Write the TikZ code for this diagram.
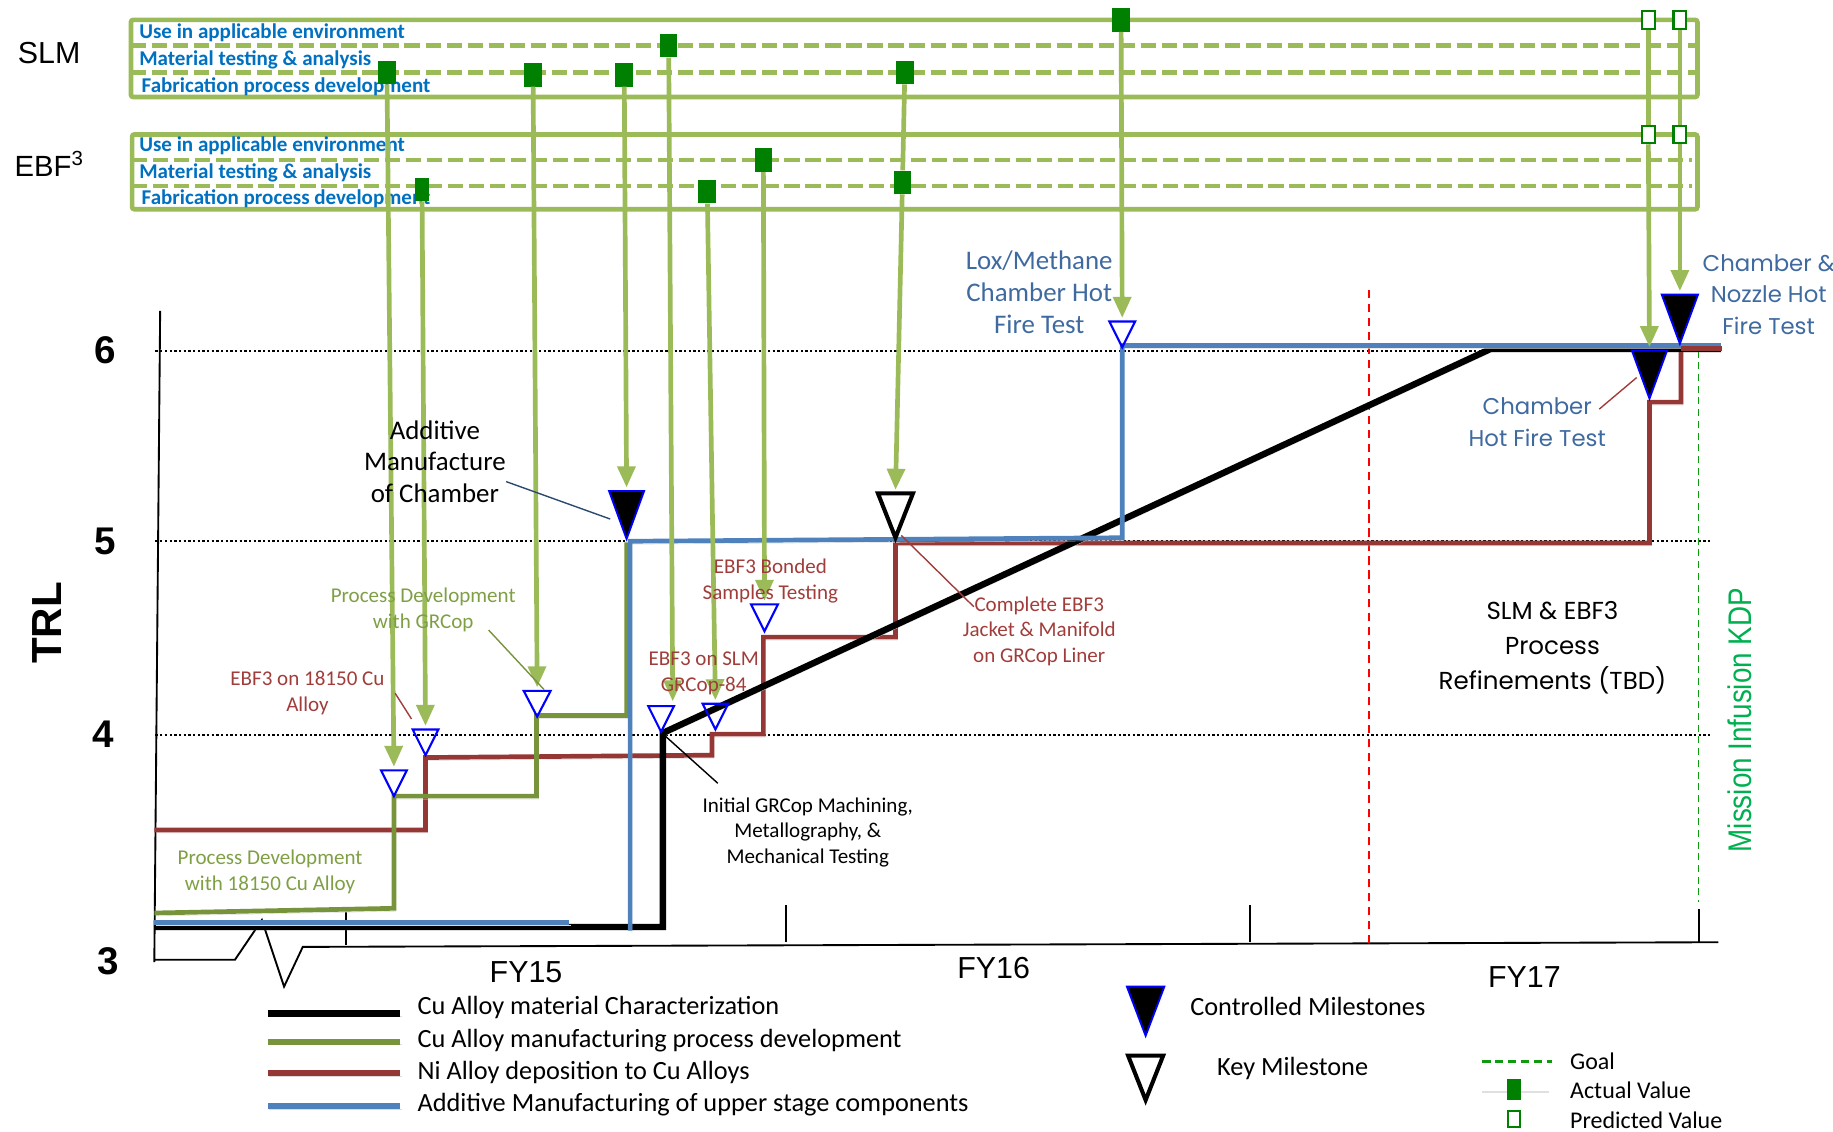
\documentclass[tikz,border=0pt]{standalone}
\usepackage{fontspec}
\setmainfont{Carlito}
\newfontfamily\arialfont{Liberation Sans}
\newfontfamily\narrowfont[FakeStretch=0.85]{Liberation Sans}
\newfontfamily\gothicfont{Poppins}
\usetikzlibrary{arrows.meta, calc}
\definecolor{BoxGreen}{HTML}{9BBB59}
\definecolor{MarkGreen}{HTML}{008000}
\definecolor{RowBlue}{HTML}{0070C0}
\definecolor{StepGreen}{HTML}{77933C}
\definecolor{StepRed}{HTML}{953735}
\definecolor{StepBlue}{HTML}{4F81BD}
\definecolor{NoteRed}{HTML}{A03D3A}
\definecolor{NoteGreen}{HTML}{7F9F45}
\definecolor{NoteBlue}{HTML}{3F6AA0}
\definecolor{MileBlue}{HTML}{0000FF}
\definecolor{KdpGreen}{HTML}{00B050}
\definecolor{GoalGreen}{HTML}{109A10}

% milestone triangle: name, x, top y, half width, height, style
\newcommand{\milestone}[6]{%
  \coordinate (#1) at (#2,#3);
  \coordinate (#1-tip) at (#2,#3+#5);
  \draw[#6] (#2-#4,#3) -- (#2+#4,#3) -- (#1-tip) -- cycle;}

\begin{document}
\begin{tikzpicture}[
  x=1pt, y=-1pt,
  font=\fontsize{18}{22}\selectfont,
  boxline/.style={draw=BoxGreen, line width=4pt, rounded corners=2pt},
  boxdash/.style={draw=BoxGreen, line width=4pt, dash pattern=on 13pt off 5pt},
  rowlabel/.style={anchor=west, inner sep=0pt, text=RowBlue, font=\bfseries\fontsize{18}{20}\selectfont},
  actual/.style={fill=MarkGreen, inner sep=0pt, minimum width=15pt, minimum height=20pt},
  predicted/.style={fill=white, draw=MarkGreen, line width=1.8pt, inner sep=0pt, minimum width=11pt, minimum height=15pt},
  feed/.style={draw=BoxGreen, line width=4pt, -{Triangle[length=18pt, width=15pt]}, shorten >=3pt},
  feedpass/.style={draw=BoxGreen, line width=4pt},
  grid/.style={line width=1.6pt, dash pattern=on 2pt off 2pt},
  axis/.style={line width=1.6pt},
  shadowed/.style={preaction={draw=black!14, transform canvas={shift={(1.5pt,-2.5pt)}}}},
  stepblack/.style={shadowed, draw=black, line width=5.5pt},
  stepgreen/.style={shadowed, draw=StepGreen, line width=4pt},
  stepred/.style={shadowed, draw=StepRed, line width=4pt},
  stepblue/.style={shadowed, draw=StepBlue, line width=4pt},
  minor/.style={draw=MileBlue, line width=1.8pt},
  controlled/.style={draw=MileBlue, fill=black, line width=1.6pt},
  keystone/.style={draw=black, fill=white, line width=3.5pt},
  note/.style={align=center, inner sep=0pt},
  lead/.style={line width=1.2pt},
  axislabel/.style={inner sep=0pt, font=\arialfont\bfseries\fontsize{33}{36}\selectfont},
  fylabel/.style={inner sep=0pt, font=\arialfont\fontsize{26}{30}\selectfont},
  legendtext/.style={anchor=west, inner sep=0pt, font=\fontsize{22.5}{26}\selectfont},
  smalllegend/.style={anchor=west, inner sep=0pt, font=\fontsize{20.5}{23}\selectfont}
]
\useasboundingbox (0,0) rectangle (1568,968);

% grid and axes
\draw[grid] (133,300) -- (1465,300);
\draw[grid] (133,463) -- (1464,463);
\draw[grid] (133,629) -- (1464,629);
\draw[axis] (137,266) -- (132,823);
\draw[axis] (132,821) -- (201,821) -- (224,787) -- (243,844) -- (259,810) -- (1470,806);
\draw[axis] (296,780) -- (296,808);
\draw[axis] (672,774) -- (672,806);
\draw[axis] (1069,774) -- (1069,806);
\draw[axis] (1453,778) -- (1453,807);
\draw[draw=red, line width=1.3pt, dash pattern=on 7pt off 5pt] (1171,248) -- (1171,808);
\draw[draw=GoalGreen, line width=1.5pt, dash pattern=on 6pt off 4pt] (1453,300) -- (1453,772);

% TRL steps
\draw[stepred] (132,710) -- (364,710) -- (364,648) -- (609,646) -- (609,628) -- (653,628)
  -- (653,545) -- (766,545) -- (766,464.5) -- (1411,464.5) -- (1411,344) -- (1438,344) -- (1438,298);
\draw[stepgreen] (132,781) -- (337,777) -- (337,681) -- (459,681) -- (459,612) -- (536,612) -- (536,464);
\draw[stepblack] (132,793) -- (567,793) -- (567,627) -- (1275,298.5) -- (1472,298.5);
\draw[stepblue] (132,789) -- (487,789);
\draw[stepblue] (539,796) -- (539,463) -- (960,460) -- (960,295.5) -- (1472,295.5);
\draw[draw=StepRed, line width=4pt] (1438,298) -- (1473,298);

% milestones
\milestone{t1}{337}{659}{11}{22}{minor}
\milestone{t2}{364}{624}{11}{22}{minor}
\milestone{t3}{459.5}{591}{11.5}{22}{minor}
\milestone{t4}{565.5}{604}{11}{22}{minor}
\milestone{t5}{612}{602}{11}{22}{minor}
\milestone{t6}{654}{517}{11.5}{23}{minor}
\milestone{t7}{960}{275}{11}{22}{minor}
\milestone{c1}{536}{420}{15}{41}{controlled}
\milestone{c2}{1411}{300}{15}{41}{controlled}
\milestone{c3}{1437}{252}{15.5}{42}{controlled}
\milestone{k1}{766}{422}{15}{38}{keystone}

% SLM and EBF3 rows
\draw[boxline] (112,17) rectangle (1452,83);
\draw[boxdash] (112,39) -- (1452,39);
\draw[boxdash] (112,62) -- (1452,62);
\draw[boxline] (113,115) rectangle (1452,179);
\draw[boxdash] (113,137) -- (1447,137);
\draw[boxdash] (113,159) -- (1447,159);
\node[rowlabel] (slmuse) at (119,28) {Use in applicable environment};
\node[rowlabel] (slmmat) at (119,51) {Material testing \& analysis};
\node[rowlabel] (slmfab) at (121,74) {Fabrication process development};
\node[rowlabel] (ebfuse) at (119,125) {Use in applicable environment};
\node[rowlabel] (ebfmat) at (119,148) {Material testing \& analysis};
\node[rowlabel] (ebffab) at (121,170) {Fabrication process development};
\node[inner sep=0pt, font=\arialfont\fontsize{26}{30}\selectfont] (slm) at (42,45) {SLM};
\node[inner sep=0pt, font=\arialfont\fontsize{25}{30}\selectfont] (ebf) at (42,140) {EBF\textsuperscript{3}};

% actual and predicted values
\node[actual] (s1) at (331,62) {};
\node[actual] (s2) at (456,64) {};
\node[actual] (s3) at (534,64) {};
\node[actual] (s4) at (572,39) {};
\node[actual] (s5) at (774,62) {};
\node[actual] (s6) at (959,17) {};
\node[predicted] (sp1) at (1410,17) {};
\node[predicted] (sp2) at (1437,17) {};
\node[actual, minimum width=12pt] (e1) at (361,162) {};
\node[actual] (e2) at (605,164) {};
\node[actual] (e3) at (653,137) {};
\node[actual] (e4) at (772,156) {};
\node[predicted] (ep1) at (1410,115) {};
\node[predicted] (ep2) at (1437,115) {};

\draw[feed] (s1) -- (t1);
\draw[feed] (e1) -- (t2);
\draw[feed] (s2) -- (t3);
\draw[feed] (s3) -- (c1);
\draw[feed] (s4) -- ($(t4)+(10,-1)$);
\draw[feed] (e2) -- (t5);
\draw[feed] (e3) -- (t6);
\draw[feedpass] (s5) -- (e4);
\draw[feed] (e4) -- (k1);
\draw[feed] (s6) -- (t7);
\draw[feedpass] (sp1) -- (ep1);
\draw[feed] (ep1) -- (c2);
\draw[feedpass] (sp2) -- (ep2);
\draw[feed] (ep2) -- (c3);

% axis labels
\node[inner sep=0pt, rotate=90, font=\arialfont\bfseries\fontsize{36}{40}\selectfont] (trl) at (40,533) {TRL};
\node[axislabel] (lv6) at (90,300) {6};
\node[axislabel] (lv5) at (90,463) {5};
\node[axislabel] (lv4) at (88,628) {4};
\node[axislabel] (lv3) at (93,822) {3};
\node[fylabel] (fy15) at (450,832) {FY15};
\node[fylabel] (fy16) at (850,828) {FY16};
\node[fylabel] (fy17) at (1304,836) {FY17};
\node[inner sep=0pt, rotate=90, text=KdpGreen, font=\narrowfont\fontsize{28}{30}\selectfont] (kdp) at (1488,616) {Mission Infusion KDP};

% notes
\node[note, font=\fontsize{23}{27}\selectfont] (am) at (372,395) {Additive\\Manufacture\\of Chamber};
\node[note, text=NoteBlue, font=\fontsize{23}{27.5}\selectfont] (lm) at (889,250) {Lox/Methane\\Chamber Hot\\Fire Test};
\node[note, text=NoteGreen] (pg) at (362,522) {Process Development\\with GRCop};
\node[note, text=NoteRed] (e18) at (263,593) {EBF3 on 18150 Cu\\Alloy};
\node[note, text=NoteGreen] (p18) at (231,746) {Process Development\\with 18150 Cu Alloy};
\node[note, text=NoteRed] (es) at (602,576) {EBF3 on SLM\\GRCop-84};
\node[note, text=NoteRed] (eb) at (659,497) {EBF3 Bonded\\Samples Testing};
\node[note] (ig) at (691,712) {Initial GRCop Machining,\\Metallography, \&\\Mechanical Testing};
\node[note, text=NoteRed] (ce) at (889,540) {Complete EBF3\\Jacket \& Manifold\\on GRCop Liner};
\node[note, text=NoteBlue, font=\gothicfont\fontsize{19.5}{27}\selectfont] (ch) at (1315,361) {Chamber\\Hot Fire Test};
\node[note, text=NoteBlue, font=\gothicfont\fontsize{19.5}{27}\selectfont] (cn) at (1513,252) {Chamber \&\\Nozzle Hot\\Fire Test};
\node[note, font=\gothicfont\fontsize{21}{30}\selectfont] (sr) at (1328,554) {SLM \& EBF3\\Process\\Refinements (TBD)};

\draw[lead, draw=NoteBlue!70!black] ($(am.center)+(61,17)$) -- ($(c1)+(-14,24)$);
\draw[lead, draw=StepGreen] ($(pg.center)+(56,17)$) -- ($(t3)+(6,-1)$);
\draw[lead, draw=NoteRed] ($(e18.center)+(75,0)$) -- ($(t2)+(-12,-9)$);
\draw[lead, draw=black] ($(ig.center)+(-77,-42)$) -- ($(t4-tip)+(4,4)$);
\draw[lead, draw=NoteRed] ($(ce.center)+(-56,-21)$) -- ($(k1-tip)+(5,-2)$);
\draw[lead, draw=NoteRed] ($(ch.center)+(53,-11)$) -- ($(c2)+(-11,23)$);

% legend
\draw[shadowed, draw=black, line width=6pt] (229,867) -- (342,867);
\draw[shadowed, draw=StepGreen, line width=5pt] (229,891) -- (342,891);
\draw[shadowed, draw=StepRed, line width=5pt] (229,918) -- (342,918);
\draw[shadowed, draw=StepBlue, line width=5pt] (229,946) -- (342,946);
\node[legendtext] (lgblack) at (357,862) {Cu Alloy material Characterization};
\node[legendtext] (lggreen) at (357,890) {Cu Alloy manufacturing process development};
\node[legendtext] (lgred) at (357,917) {Ni Alloy deposition to Cu Alloys};
\node[legendtext] (lgblue) at (357,945) {Additive Manufacturing of upper stage components};
\milestone{lc}{980}{844}{16}{42}{controlled}
\milestone{lk}{980}{903}{15}{38}{keystone}
\node[legendtext] (lgctrl) at (1018,861) {Controlled Milestones};
\node[legendtext] (lgkey) at (1041,914) {Key Milestone};
\draw[draw=GoalGreen, line width=2pt, dash pattern=on 7pt off 4pt] (1268,908) -- (1328,908);
\draw[draw=black!12, line width=2pt] (1268,934) -- (1325,934);
\node[actual, minimum width=12pt, minimum height=18pt] (lgact) at (1295,932) {};
\node[predicted, minimum width=10pt, minimum height=14pt] (lgpred) at (1295,957) {};
\node[smalllegend] (lggoal) at (1343,908) {Goal};
\node[smalllegend] (lgactual) at (1343,933) {Actual Value};
\node[smalllegend] (lgpredicted) at (1343,958) {Predicted Value};
\end{tikzpicture}
\end{document}
